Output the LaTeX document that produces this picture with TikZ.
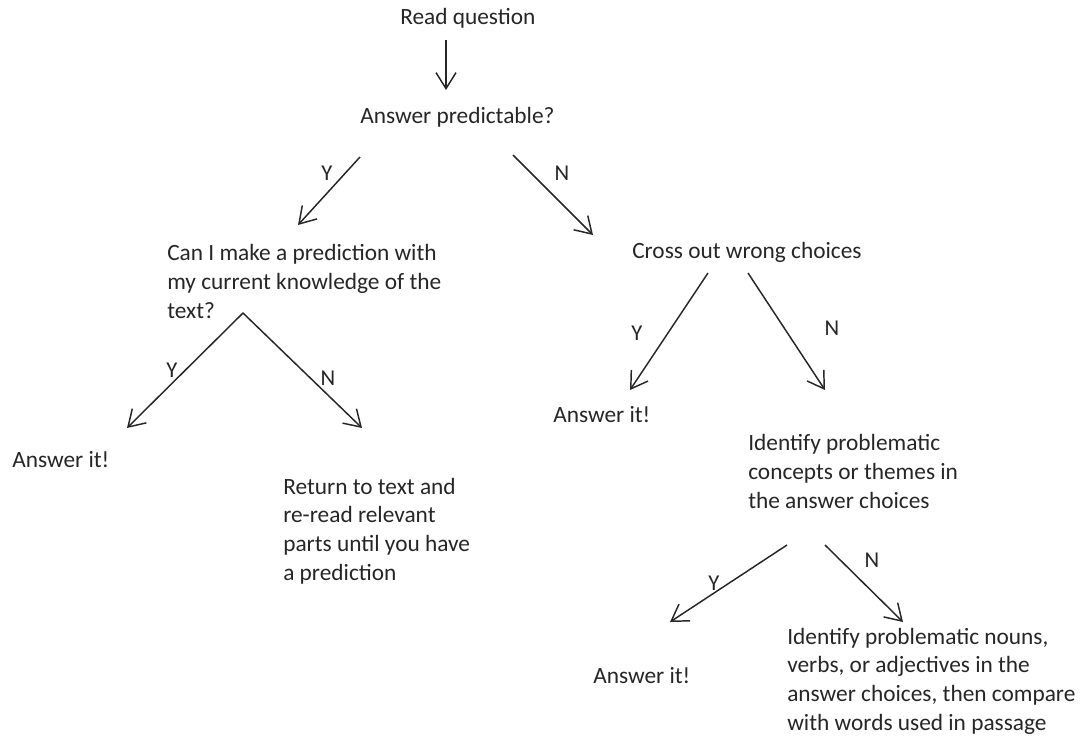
\documentclass[tikz,border=0pt]{standalone}
\usepackage{fontspec}
\setmainfont{Carlito}
\usetikzlibrary{arrows.meta}

\begin{document}
\begin{tikzpicture}[x=0.75pt, y=-0.75pt,
  txt/.style={anchor=base west, inner sep=0pt, align=left, text=black!85,
              font=\fontsize{17.5}{21.4}\selectfont},
  yn/.style={inner sep=0pt, text=black!85, font=\fontsize{17}{20}\selectfont},
  ar/.style={-{Straight Barb[length=12pt,width=15pt]}, line width=1.1pt, black!85}
]
\useasboundingbox (0,0) rectangle (1084,735);

% multi-line texts are placed by their last line
\node[txt] (read)  at (400,25)  {Read question};
\node[txt] (pred)  at (360,123) {Answer predictable?};
\node[txt] (know)  at (167,318) {Can I make a prediction with\\my current knowledge of the\\text?};
\node[txt] (cross) at (632,258) {Cross out wrong choices};
\node[txt] (ans1)  at (12,467)  {Answer it!};
\node[txt] (ret)   at (283,580) {Return to text and\\re-read relevant\\parts until you have\\a prediction};
\node[txt] (ans2)  at (553,422) {Answer it!};
\node[txt] (ident) at (748,508) {Identify problematic\\concepts or themes in\\the answer choices};
\node[txt] (ans3)  at (593,683) {Answer it!};
\node[txt] (nouns) at (787,730) {Identify problematic nouns,\\verbs, or adjectives in the\\answer choices, then compare\\with words used in passage};

% arrow ends
\coordinate (r0) at (446,40);   \coordinate (r1) at (446,90);
\coordinate (py0) at (360,157); \coordinate (py1) at (298,225);
\coordinate (pn0) at (513,155); \coordinate (pn1) at (593,235);
\coordinate (kt)  at (243,313);
\coordinate (ky1) at (127,428); \coordinate (kn1) at (362,428);
\coordinate (cy0) at (708,273); \coordinate (cy1) at (630,390);
\coordinate (cn0) at (748,273); \coordinate (cn1) at (825,390);
\coordinate (iy0) at (787,545); \coordinate (iy1) at (670,622);
\coordinate (in0) at (825,545); \coordinate (in1) at (903,622);

\foreach \a/\b in {r0/r1,py0/py1,pn0/pn1,kt/ky1,kt/kn1,cy0/cy1,cn0/cn1,iy0/iy1,in0/in1}
  \draw[ar] (\a) -- (\b);

\node[yn] (y1) at (327,173) {Y};
\node[yn] (n1) at (562,173) {N};
\node[yn] (y2) at (172,370) {Y};
\node[yn] (n2) at (328,378) {N};
\node[yn] (y3) at (637,333) {Y};
\node[yn] (n3) at (832,328) {N};
\node[yn] (y4) at (714,583) {Y};
\node[yn] (n4) at (872,560) {N};

\end{tikzpicture}
\end{document}
